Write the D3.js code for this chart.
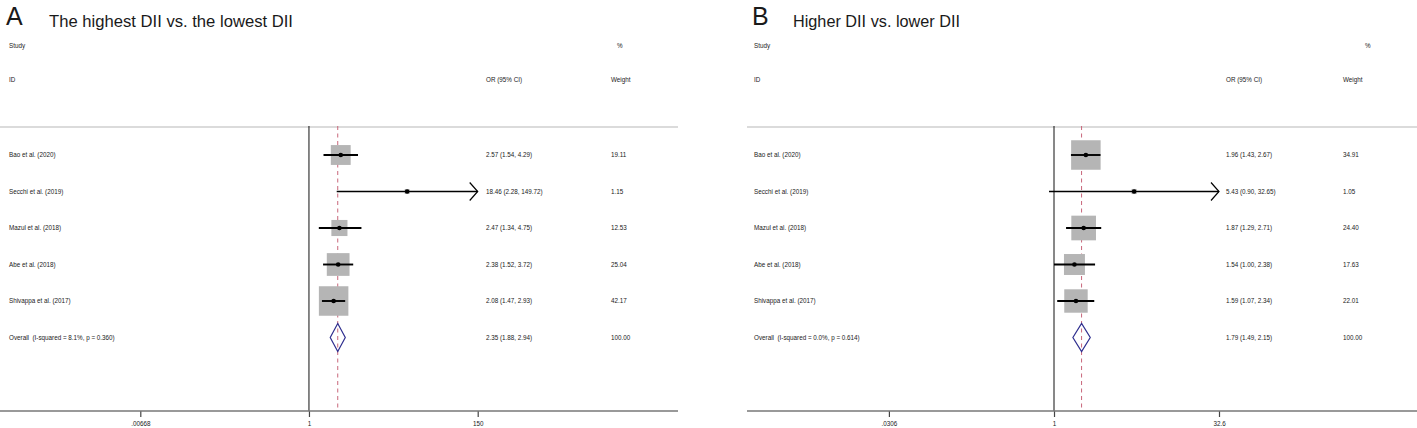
<!DOCTYPE html>
<html>
<head>
<meta charset="utf-8">
<script src="https://cdn.jsdelivr.net/npm/d3@7"></script>
<style>
  body { margin: 0; background: #fff; }
  text { font-family: "Liberation Sans", Arial, sans-serif; fill: #1a1a1a; }
</style>
</head>
<body>
<div class="container"></div>
<script>
// studies (same in both panels)
const studies = ["Bao et al. (2020)", "Secchi et al. (2019)", "Mazul et al. (2018)", "Abe et al. (2018)", "Shivappa et al. (2017)"];

// panel A: the highest vs the lowest DII
const orA = [2.57, 18.46, 2.47, 2.38, 2.08];
const loA = [1.54, 2.28, 1.34, 1.52, 1.47];
const hiA = [4.29, 149.72, 4.75, 3.72, 2.93];
const weightA = [19.11, 1.15, 12.53, 25.04, 42.17];
const overallA = [2.35, 1.88, 2.94];
const overallLabelA = "Overall\u00a0\u00a0(I-squared = 8.1%, p = 0.360)";
const ticksA = [0.00668, 1, 150];
const tickLabelsA = [".00668", "1", "150"];

// panel B: higher vs lower DII
const orB = [1.96, 5.43, 1.87, 1.54, 1.59];
const loB = [1.43, 0.90, 1.29, 1.00, 1.07];
const hiB = [2.67, 32.65, 2.71, 2.38, 2.34];
const weightB = [34.91, 1.05, 24.40, 17.63, 22.01];
const overallB = [1.79, 1.49, 2.15];
const overallLabelB = "Overall\u00a0\u00a0(I-squared = 0.0%, p = 0.614)";
const ticksB = [0.0306, 1, 32.6];
const tickLabelsB = [".0306", "1", "32.6"];

const W = 1417, H = 428;
const fmt = d3.format(".2f");

const svg = d3.select(".container")
    .append("svg")
    .attr("width", W)
    .attr("height", H);

// rows: 5 studies + overall
const y = d3.scaleLinear().domain([0, 5]).range([155, 337.5]);
const plotTop = 126, axisY = 411;

function drawPanel(p) {
    const g = svg.append("g");
    const x = d3.scaleLog().domain([p.ticks[0], p.ticks[p.ticks.length - 1]]).range(p.xRange);
    const dmin = x.domain()[0], dmax = x.domain()[1];
    const box = d3.scaleSqrt().domain([0, d3.max(p.weights)]).range([0, 29.5]);
    // CI that reach the outer tick (after rounding) get an arrow, like stata does
    const clipped = d => d.hi >= dmax * 0.99;

    // panel letter + title
    g.append("text").attr("x", p.left + p.letterDx).attr("y", 25)
        .attr("font-size", "25px").text(p.letter);
    g.append("text").attr("x", p.titleX).attr("y", 27)
        .attr("font-size", "17px").attr("textLength", p.titleW).attr("lengthAdjust", "spacingAndGlyphs")
        .text(p.title);

    // column headers
    const small = "6.3px";
    g.append("text").attr("x", p.labelX).attr("y", 48).attr("font-size", small).text("Study");
    g.append("text").attr("x", p.labelX).attr("y", 82).attr("font-size", small).text("ID");
    g.append("text").attr("x", p.orX).attr("y", 82).attr("font-size", small).text("OR (95% CI)");
    g.append("text").attr("x", p.pctX).attr("y", 48).attr("font-size", small).text("%");
    g.append("text").attr("x", p.wX).attr("y", 82).attr("font-size", small).text("Weight");

    // header rule
    g.append("line")
        .attr("x1", p.ruleX[0]).attr("x2", p.ruleX[1])
        .attr("y1", plotTop + 1).attr("y2", plotTop + 1)
        .attr("stroke", "#cfcfcf").attr("stroke-width", 1.5);

    // null line at 1
    g.append("line")
        .attr("x1", x(1)).attr("x2", x(1))
        .attr("y1", plotTop).attr("y2", axisY)
        .attr("stroke", "#111").attr("stroke-width", 1);

    // pooled estimate dashed line
    g.append("line")
        .attr("x1", x(p.overall[0])).attr("x2", x(p.overall[0]))
        .attr("y1", plotTop).attr("y2", axisY)
        .attr("stroke", "#c8667a").attr("stroke-width", 1)
        .attr("stroke-dasharray", "4,3.5");

    const rows = p.studies.map((s, i) => ({
        name: s, or: p.ors[i], lo: p.los[i], hi: p.his[i], w: p.weights[i], i: i
    }));

    // weight boxes
    g.selectAll(".box").data(rows).enter().append("rect")
        .attr("x", d => x(d.or) - box(d.w) / 2)
        .attr("y", d => y(d.i) - box(d.w) / 2)
        .attr("width", d => box(d.w))
        .attr("height", d => box(d.w))
        .attr("fill", "#b5b5b5");

    // confidence intervals
    g.selectAll(".ci").data(rows).enter().append("line")
        .attr("x1", d => x(Math.max(d.lo, dmin)))
        .attr("x2", d => x(Math.min(d.hi, dmax)))
        .attr("y1", d => y(d.i)).attr("y2", d => y(d.i))
        .attr("stroke", "#000")
        .attr("stroke-width", d => clipped(d) ? 1.4 : 1.9);

    // arrows for clipped intervals
    g.selectAll(".arrow").data(rows.filter(clipped)).enter().append("path")
        .attr("d", d => {
            const tx = x(dmax), ty = y(d.i);
            return `M${tx - 8},${ty - 9}L${tx},${ty}L${tx - 8},${ty + 9}`;
        })
        .attr("fill", "none").attr("stroke", "#000").attr("stroke-width", 1.2);

    // point estimates
    g.selectAll(".pt").data(rows).enter().append("circle")
        .attr("cx", d => x(d.or))
        .attr("cy", d => y(d.i))
        .attr("r", 2.3)
        .attr("fill", "#000");

    // overall diamond
    const oy = y(5);
    const [oe, ol, oh] = p.overall;
    g.append("path")
        .attr("d", `M${x(ol)},${oy}L${x(oe)},${oy - 14}L${x(oh)},${oy}L${x(oe)},${oy + 14}Z`)
        .attr("fill", "none").attr("stroke", "#2f2f8f").attr("stroke-width", 1.2);

    // row text
    const allRows = rows.concat([{ name: p.overallLabel, or: oe, lo: ol, hi: oh, w: 100, i: 5 }]);
    g.selectAll(".lab").data(allRows).enter().append("text")
        .attr("x", p.labelX).attr("y", d => y(d.i) + 2.2)
        .attr("font-size", small).text(d => d.name);
    g.selectAll(".ort").data(allRows).enter().append("text")
        .attr("x", p.orX).attr("y", d => y(d.i) + 2.2)
        .attr("font-size", small)
        .text(d => `${fmt(d.or)} (${fmt(d.lo)}, ${fmt(d.hi)})`);
    g.selectAll(".wt").data(allRows).enter().append("text")
        .attr("x", p.wX).attr("y", d => y(d.i) + 2.2)
        .attr("font-size", small).text(d => fmt(d.w));

    // x axis
    const xAxis = d3.axisBottom(x)
        .tickValues(p.ticks)
        .tickFormat((d, i) => p.tickLabels[i])
        .tickSize(6).tickSizeOuter(0).tickPadding(5);
    const ax = g.append("g")
        .attr("transform", `translate(0,${axisY})`)
        .call(xAxis);
    ax.select(".domain").remove();
    ax.selectAll(".tick line").attr("stroke", "#444").attr("stroke-width", 1.2);
    ax.selectAll(".tick text")
        .attr("font-size", small)
        .attr("font-family", "Liberation Sans, Arial, sans-serif")
        .attr("fill", "#1a1a1a");
    g.append("line")
        .attr("x1", p.ruleX[0]).attr("x2", p.ruleX[1])
        .attr("y1", axisY).attr("y2", axisY)
        .attr("stroke", "#777").attr("stroke-width", 1.5);
}

drawPanel({
    letter: "A", title: "The highest DII vs. the lowest DII",
    left: 0, letterDx: 6, titleX: 49, titleW: 244,
    studies: studies, ors: orA, los: loA, his: hiA, weights: weightA,
    overall: overallA, overallLabel: overallLabelA,
    ticks: ticksA, tickLabels: tickLabelsA,
    xRange: [140.3, 477.7],
    labelX: 9, orX: 486, wX: 611, pctX: 617,
    ruleX: [0, 678]
});

drawPanel({
    letter: "B", title: "Higher DII vs. lower DII",
    left: 705, letterDx: 47, titleX: 793, titleW: 167,
    studies: studies, ors: orB, los: loB, his: hiB, weights: weightB,
    overall: overallB, overallLabel: overallLabelB,
    ticks: ticksB, tickLabels: tickLabelsB,
    xRange: [888.9, 1219],
    labelX: 754, orX: 1226, wX: 1343, pctX: 1365,
    ruleX: [747, 1417]
});
</script>
</body>
</html>
